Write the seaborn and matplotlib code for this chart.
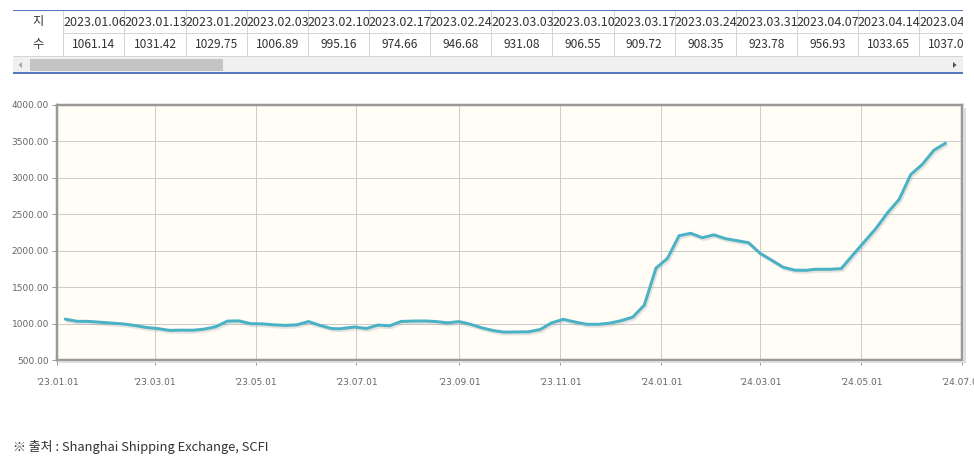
import matplotlib
matplotlib.use('Agg')
import matplotlib.pyplot as plt
import matplotlib.patheffects as pe
import matplotlib.patches as mpatches
import seaborn as sns
import pandas as pd

# ---------------- data ----------------
dates = [
    '2023-01-06', '2023-01-13', '2023-01-20', '2023-02-03', '2023-02-10', '2023-02-17', '2023-02-24',
    '2023-03-03', '2023-03-10', '2023-03-17', '2023-03-24', '2023-03-31', '2023-04-07', '2023-04-14',
    '2023-04-21', '2023-04-28', '2023-05-05', '2023-05-12', '2023-05-19', '2023-05-26', '2023-06-02',
    '2023-06-09', '2023-06-16', '2023-06-21', '2023-06-30', '2023-07-07', '2023-07-14', '2023-07-21',
    '2023-07-28', '2023-08-04', '2023-08-11', '2023-08-18', '2023-08-25', '2023-09-01', '2023-09-08',
    '2023-09-15', '2023-09-22', '2023-09-28', '2023-10-13', '2023-10-20', '2023-10-27', '2023-11-03',
    '2023-11-10', '2023-11-17', '2023-11-24', '2023-12-01', '2023-12-08', '2023-12-15', '2023-12-22',
    '2023-12-29', '2024-01-05', '2024-01-12', '2024-01-19', '2024-01-26', '2024-02-02', '2024-02-09',
    '2024-02-23', '2024-03-01', '2024-03-08', '2024-03-15', '2024-03-22', '2024-03-29', '2024-04-03',
    '2024-04-12', '2024-04-19', '2024-04-26', '2024-05-10', '2024-05-17', '2024-05-24', '2024-05-31',
    '2024-06-07', '2024-06-14', '2024-06-21',
]
values = [
    1061.14, 1031.42, 1029.75, 1006.89, 995.16, 974.66, 946.68,
    931.08, 906.55, 909.72, 908.35, 923.78, 956.93, 1033.65,
    1037.03, 999.0, 996.0, 983.0, 975.0, 983.0, 1028.0,
    975.0, 932.0, 929.0, 953.0, 932.0, 980.0, 969.0,
    1029.0, 1034.0, 1036.0, 1028.0, 1010.0, 1027.0, 990.0,
    940.0, 903.0, 883.0, 887.0, 918.0, 1010.0, 1058.0,
    1022.0, 991.0, 989.0, 1005.0, 1040.0, 1088.0, 1254.99,
    1759.57, 1896.65, 2206.03, 2239.61, 2178.78, 2218.01, 2166.08,
    2109.94, 1964.0, 1870.0, 1772.0, 1733.0, 1731.0, 1745.0,
    1745.0, 1754.0, 1941.0, 2306.0, 2521.0, 2704.0, 3045.0,
    3185.0, 3379.0, 3476.0,
]
table_count = 15
row_labels = ['지', '수']
y_ticks = [500, 1000, 1500, 2000, 2500, 3000, 3500, 4000]
x_tick_dates = ['2023-01-01', '2023-03-01', '2023-05-01', '2023-07-01', '2023-09-01',
                '2023-11-01', '2024-01-01', '2024-03-01', '2024-05-01', '2024-07-01']
x_tick_labels = ["'23.01.01", "'23.03.01", "'23.05.01", "'23.07.01", "'23.09.01",
                 "'23.11.01", "'24.01.01", "'24.03.01", "'24.05.01", "'24.07.01"]
x_range = ['2023-01-01', '2024-07-01']
source_text = '※ 출처 : Shanghai Shipping Exchange, SCFI'

# ---------------- figure ----------------
W, H = 974, 465
sns.set_theme(style='white')
plt.rcParams['font.family'] = ['Noto Sans CJK KR', 'DejaVu Sans']
PT = 72 / 100.0  # points per pixel at dpi 100

fig = plt.figure(figsize=(W / 100, H / 100), dpi=100)
fig.patch.set_facecolor('white')

# ---------------- table ----------------
tx0, tx1, ty0, ty1 = 13, 963, 10, 74
tab = fig.add_axes([tx0 / W, 1 - ty1 / H, (tx1 - tx0) / W, (ty1 - ty0) / H])
tab.set_xlim(tx0, tx1)
tab.set_ylim(ty1, ty0)
tab.axis('off')

col0 = 63.3
cw = 61.15
r1, r2 = 33, 56
grey = '#d4d4d4'
tab.hlines([r1], col0, tx1, color=grey, lw=1 * PT)
tab.hlines([r2], tx0, tx1, color=grey, lw=1 * PT)
for k in range(table_count + 1):
    xx = col0 + k * cw
    tab.vlines(xx, ty0, r2, color=grey, lw=1 * PT)
tab.hlines([ty0 + 0.5, ty1 - 0.5], tx0, tx1, color='#5577bb', lw=2 * PT)

tab.text((tx0 + col0) / 2, (ty0 + r1) / 2, row_labels[0], ha='center', va='center',
         fontsize=8.8, color='#333333')
tab.text((tx0 + col0) / 2, (r1 + r2) / 2, row_labels[1], ha='center', va='center',
         fontsize=8.8, color='#333333')
for k in range(table_count):
    cx = col0 + (k + 0.5) * cw
    d = pd.Timestamp(dates[k]).strftime('%Y.%m.%d')
    tab.text(cx + 0.5, (ty0 + r1) / 2 + 1, d, ha='center', va='center', fontsize=9.0,
             color='#333333', clip_on=True)
    tab.text(cx, (r1 + r2) / 2 + 0.5, f'{values[k]:.2f}', ha='center', va='center',
             fontsize=8.6, color='#333333', clip_on=True)

# scrollbar
tab.add_patch(mpatches.Rectangle((tx0, r2 + 1), tx1 - tx0, ty1 - r2 - 2.5,
                                 facecolor='#f0f0f0', edgecolor='none'))
tab.add_patch(mpatches.Rectangle((30, 59), 193, 12, facecolor='#c4c4c4', edgecolor='none'))
tab.add_patch(mpatches.Polygon([[22, 62], [22, 68], [18.5, 65]], closed=True,
                               facecolor='#a8a8a8', edgecolor='none'))
tab.add_patch(mpatches.Polygon([[953, 62], [953, 68], [956.5, 65]], closed=True,
                               facecolor='#505050', edgecolor='none'))

# ---------------- chart ----------------
px0, px1, py0, py1 = 57, 962, 105, 360
ax = fig.add_axes([px0 / W, 1 - py1 / H, (px1 - px0) / W, (py1 - py0) / H])
ax.set_facecolor('#fffdf6')

df = pd.DataFrame({'date': pd.to_datetime(dates), 'value': values})
sns.lineplot(data=df, x='date', y='value', ax=ax, color='#4bb2c5', linewidth=3 * PT,
             path_effects=[pe.SimpleLineShadow(offset=(1.0, -1.4), shadow_color='#888888', alpha=0.22),
                           pe.Normal()], zorder=3)

ax.set_xlim(pd.Timestamp(x_range[0]), pd.Timestamp(x_range[1]))
ax.set_ylim(y_ticks[0], y_ticks[-1])
ax.set_yticks(y_ticks)
ax.set_yticklabels([f'{v:.2f}' for v in y_ticks])
ax.set_xticks(pd.to_datetime(x_tick_dates))
ax.set_xticklabels(x_tick_labels)
ax.set_xlabel('')
ax.set_ylabel('')
ax.grid(True, color='#cccccc', linewidth=1 * PT, zorder=0)
ax.set_axisbelow(True)
for s in ax.spines.values():
    s.set_color('#999999')
    s.set_linewidth(2.5 * PT)
    s.set_zorder(4)
ax.tick_params(axis='y', direction='out', length=5 * PT, width=1 * PT, color='#999999',
               pad=3 * PT, labelsize=6.5, labelcolor='#666666', left=True)
ax.tick_params(axis='x', direction='out', length=5 * PT, width=1 * PT, color='#999999',
               pad=13 * PT, labelsize=6.5, labelcolor='#666666', bottom=True)
for lab in ax.get_xticklabels() + ax.get_yticklabels():
    lab.set_family(['DejaVu Sans'])

# border shadow
fig.patches.append(mpatches.Rectangle(((px0 + 2) / W, 1 - (py1 + 3) / H), (px1 - px0) / W, 2.5 / H,
                                      transform=fig.transFigure, facecolor='#dddddd',
                                      edgecolor='none', zorder=0))
fig.patches.append(mpatches.Rectangle(((px1 + 1) / W, 1 - (py1 + 3) / H), 2.5 / W, (py1 - py0) / H,
                                      transform=fig.transFigure, facecolor='#dddddd',
                                      edgecolor='none', zorder=0))

# ---------------- footer ----------------
fig.text(13 / W, 1 - 447 / H, source_text, ha='left', va='center', fontsize=9.3,
         color='#333333', family=['Noto Sans CJK KR', 'DejaVu Sans'])

fig.savefig('out.png', dpi=100, facecolor='white')
